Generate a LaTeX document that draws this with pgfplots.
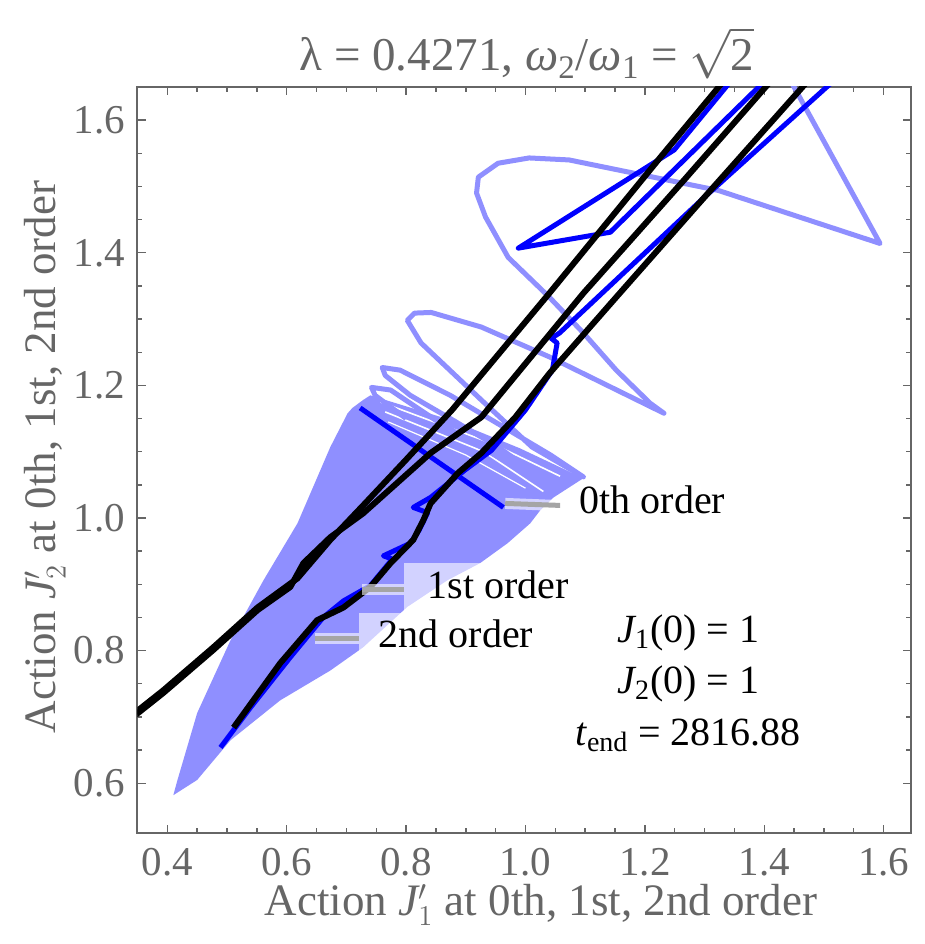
\documentclass[border=0pt]{standalone}
\usepackage{pgfplots}
\pgfplotsset{compat=1.18}
\usepackage{fontspec}
\setmainfont{Liberation Serif}
\definecolor{lb}{RGB}{143,143,255}
\definecolor{db}{RGB}{0,0,255}
\definecolor{fr}{RGB}{102,102,102}
\definecolor{ld}{RGB}{165,165,165}
\newcommand{\fs}[1]{\fontsize{#1}{#1}\selectfont}
\begin{document}
\begin{tikzpicture}
\begin{axis}[
  name=ax, scale only axis, width=386.5bp, height=373bp,
  xmin=0.35, xmax=1.645, ymin=0.525, ymax=1.65,
  axis line style={draw=fr, line width=1bp},
  xtick={0.4,0.6,0.8,1.0,1.2,1.4,1.6},
  ytick={0.6,0.8,1.0,1.2,1.4,1.6},
  minor x tick num=3, minor y tick num=3,
  tick align=inside, major tick length=4bp, minor tick length=2.5bp,
  every tick/.style={draw=fr, line width=0.7bp},
  /pgf/number format/fixed, /pgf/number format/fixed zerofill,
  /pgf/number format/precision=1, /pgf/number format/assume math mode=true,
  ticklabel style={font=\fs{20.5bp}, text=fr, inner sep=0pt},
  xticklabel style={anchor=north, yshift=-7.5bp},
  yticklabel style={anchor=east, xshift=-6bp},
  clip=true,
]
% dense 0th-order region
\addplot[draw=none, fill=lb] coordinates {
(0.410,0.582) (0.417,0.605) (0.450,0.706) (0.506,0.816) (0.561,0.906)
(0.618,0.992) (0.673,1.107) (0.702,1.158) (0.710,1.166) (0.728,1.178)
(0.740,1.185) (0.874,1.148) (0.991,1.105) (1.097,1.060) (1.047,1.031)
(1.025,1.012) (1.008,0.992) (0.970,0.962) (0.924,0.932) (0.869,0.906)
(0.802,0.866) (0.728,0.805) (0.673,0.770) (0.589,0.725) (0.506,0.665)
(0.450,0.605) (0.410,0.582)} -- cycle;
% thin gaps between the dense loops
\addplot[white, line width=0.8bp] coordinates {(0.757,1.175) (0.945,1.112) (1.058,1.063)};
\addplot[white, line width=0.8bp] coordinates {(0.765,1.160) (0.930,1.100) (1.030,1.040)};
\addplot[white, line width=0.6bp] coordinates {(0.770,1.145) (0.900,1.095) (1.000,1.045)};
% 0th-order loops
\addplot[lb, line width=2.5bp, line join=round] coordinates {
(1.4436,1.6603) (1.594,1.414) (1.323,1.494) (1.073,1.540) (1.006,1.543)
(0.954,1.535) (0.921,1.514) (0.918,1.490) (0.933,1.454) (0.971,1.393)
(1.040,1.333) (1.097,1.279) (1.152,1.223) (1.209,1.173) (1.232,1.158)
(1.040,1.243) (0.926,1.288) (0.842,1.310) (0.814,1.309) (0.802,1.298)
(0.825,1.264) (0.926,1.178) (1.011,1.107) (1.097,1.062) (1.042,1.095)
(0.958,1.140) (0.874,1.185) (0.790,1.223) (0.760,1.227) (0.765,1.215)
(0.807,1.185) (0.874,1.150) (0.958,1.105) (1.047,1.045) (0.958,1.090)
(0.857,1.143) (0.774,1.193) (0.742,1.197) (0.748,1.185) (0.80,1.15)};
% callout boxes
\fill[white, opacity=0.6] (axis cs:0.797,0.8564) rectangle (axis cs:1.10,0.9318);
\fill[white, opacity=0.6] (axis cs:0.7216,0.7853) rectangle (axis cs:1.02,0.8564);
% 1st order (blue)
\addplot[db, line width=2.5bp, line join=round] coordinates {
(1.345,1.660) (1.249,1.555) (0.988,1.407) (1.142,1.431) (1.402,1.660)};
\addplot[db, line width=2.5bp, line join=round] coordinates {
(1.517,1.660) (1.300,1.484) (1.057,1.279) (1.043,1.271) (1.053,1.264)
(1.045,1.223) (1.000,1.163) (0.943,1.102) (0.898,1.072) (0.841,1.031)
(0.812,1.016) (0.836,1.008) (0.822,0.982) (0.807,0.962) (0.762,0.943)
(0.777,0.938) (0.740,0.898) (0.695,0.875) (0.661,0.850) (0.606,0.790)
(0.540,0.715) (0.489,0.654)};
\addplot[db, line width=2.5bp] coordinates {(0.723,1.166) (0.963,1.016)};
% 2nd order (black)
\addplot[black, line width=3bp, line join=round] coordinates {
(1.333,1.660) (1.226,1.544) (1.040,1.339) (0.877,1.163) (0.799,1.087)
(0.728,1.019) (0.673,0.967) (0.618,0.909) (0.551,0.865) (0.477,0.805)
(0.393,0.740) (0.330,0.695)};
\addplot[black, line width=3bp, line join=round] coordinates {
(1.412,1.660) (1.266,1.510) (1.097,1.339) (0.926,1.152) (0.841,1.098)
(0.728,1.007) (0.673,0.971) (0.628,0.932) (0.606,0.896) (0.551,0.861)
(0.477,0.801) (0.393,0.736) (0.330,0.691)};
\addplot[black, line width=3bp, line join=round] coordinates {
(1.474,1.660) (1.300,1.484) (1.152,1.333) (1.040,1.218) (0.983,1.152)
(0.926,1.098) (0.887,1.068) (0.841,1.022) (0.829,0.997) (0.812,0.967)
(0.774,0.932) (0.740,0.896) (0.695,0.865) (0.651,0.846) (0.589,0.781)
(0.511,0.684)};
% leaders
\draw[white, opacity=0.6, line width=5.5bp] (axis cs:0.966,1.022) -- (axis cs:1.050,1.019);
\draw[ld, line width=2.5bp] (axis cs:0.966,1.022) -- (axis cs:1.058,1.019);
\draw[white, opacity=0.6, line width=5.5bp] (axis cs:0.7266,0.8926) -- (axis cs:0.797,0.8926);
\draw[ld, line width=2.5bp] (axis cs:0.7266,0.8926) -- (axis cs:0.797,0.8926);
\draw[white, opacity=0.6, line width=5.5bp] (axis cs:0.648,0.8187) -- (axis cs:0.7216,0.8187);
\draw[ld, line width=2.5bp] (axis cs:0.648,0.8187) -- (axis cs:0.7216,0.8187);
% labels
\node[anchor=base west, inner sep=0pt, font=\fs{20bp}] at (axis cs:1.090,1.0072) {0th order};
\node[anchor=base west, inner sep=0pt, font=\fs{20bp}] at (axis cs:0.8355,0.879) {1st order};
\node[anchor=base west, inner sep=0pt, font=\fs{20bp}] at (axis cs:0.7534,0.805) {2nd order};
\node[anchor=base, inner sep=0pt, font=\fs{20bp}] at (axis cs:1.273,0.8127) {{\itshape J}\textsubscript{1}(0) = 1};
\node[anchor=base, inner sep=0pt, font=\fs{20bp}] at (axis cs:1.273,0.7357) {{\itshape J}\textsubscript{2}(0) = 1};
\node[anchor=base, inner sep=0pt, font=\fs{20bp}] at (axis cs:1.273,0.6573) {{\itshape t}\textsubscript{end} = 2816.88};
\end{axis}
\node[anchor=base, inner sep=0pt, text=fr, font=\fs{23.5bp}] at ([xshift=194.75bp, yshift=8bp]ax.north west)
  {λ = 0.4271, {\itshape ω}\textsubscript{2}/{\itshape ω}\textsubscript{1} = $\sqrt{\mbox{2}}$};
\node[anchor=base, inner sep=0pt, text=fr, font=\fs{22.5bp}] at ([xshift=201.75bp, yshift=-41bp]ax.south west)
  {Action {\itshape J}$'_{1}$ at 0th, 1st, 2nd order};
\node[anchor=base, rotate=90, inner sep=0pt, text=fr, font=\fs{22.5bp}] at ([xshift=-41bp, yshift=188bp]ax.south west)
  {Action {\itshape J}$'_{2}$ at 0th, 1st, 2nd order};
\pgfresetboundingbox
\path[use as bounding box] (ax.south west) ++(-68.75bp,-55.5bp) rectangle ++(462.5bp,472bp);
\end{tikzpicture}
\end{document}
